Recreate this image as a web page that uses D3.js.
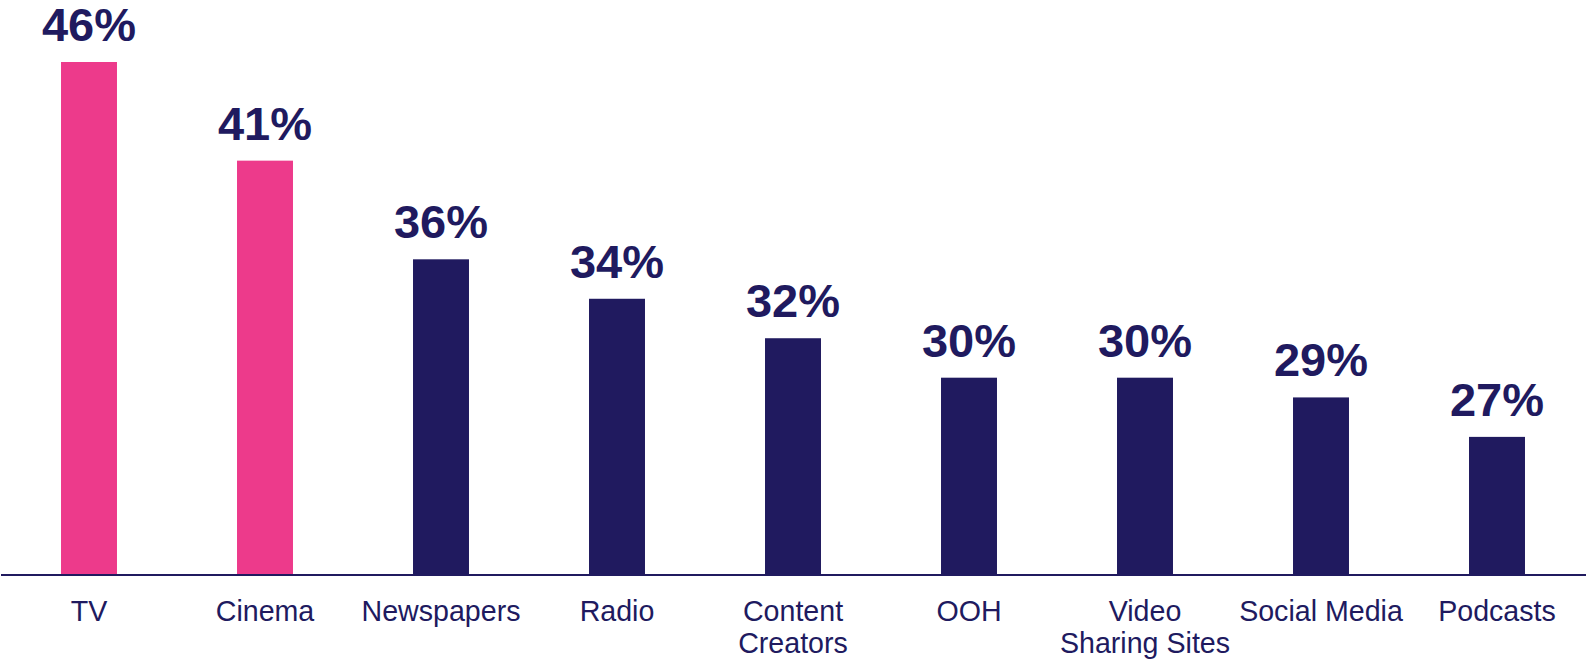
<!DOCTYPE html>
<html>
<head>
<meta charset="utf-8">
<script src="https://cdn.jsdelivr.net/npm/d3@7"></script>
<style>
  html, body { margin: 0; padding: 0; background: #fff; }
  svg { display: block; font-family: "Liberation Sans", Arial, sans-serif; }
</style>
</head>
<body>
<div id="chart"></div>
<script>
// media channels, share of respondents (%)
const categories = ['TV', 'Cinema', 'Newspapers', 'Radio', 'Content Creators', 'OOH', 'Video Sharing Sites', 'Social Media', 'Podcasts'];
const values = [46, 41, 36, 34, 32, 30, 30, 29, 27];
// two-line tick labels
const tickLines = [['TV'], ['Cinema'], ['Newspapers'], ['Radio'], ['Content', 'Creators'], ['OOH'], ['Video', 'Sharing Sites'], ['Social Media'], ['Podcasts']];
const highlighted = ['TV', 'Cinema'];

const W = 1588, H = 663;
const baseY = 575;
const PINK = '#ed3a8b';
const NAVY = '#201a5f';

const svg = d3.select('#chart').append('svg')
  .attr('width', W)
  .attr('height', H);

const x = d3.scaleBand()
  .domain(categories)
  .range([1, 1585])
  .padding(0);

// axis baseline sits at 20%
const y = d3.scaleLinear()
  .domain([20, 46])
  .range([baseY, 62]);

const barW = x.bandwidth() * 0.318;

svg.selectAll('.bar').data(categories)
  .join('rect')
  .attr('class', 'bar')
  .attr('x', d => x(d) + (x.bandwidth() - barW) / 2)
  .attr('y', (d, i) => y(values[i]))
  .attr('width', barW)
  .attr('height', (d, i) => baseY - y(values[i]))
  .attr('fill', d => highlighted.includes(d) ? PINK : NAVY);

svg.selectAll('.val').data(categories)
  .join('text')
  .attr('class', 'val')
  .attr('x', d => x(d) + x.bandwidth() / 2)
  .attr('y', (d, i) => y(values[i]) - 21)
  .attr('text-anchor', 'middle')
  .attr('fill', NAVY)
  .attr('font-size', '47px')
  .attr('font-weight', 700)
  .text((d, i) => `${values[i]}%`);

svg.append('line')
  .attr('x1', 1).attr('x2', 1586)
  .attr('y1', baseY).attr('y2', baseY)
  .attr('stroke', NAVY)
  .attr('stroke-width', 2);

const ticks = svg.selectAll('.tick').data(categories)
  .join('text')
  .attr('class', 'tick')
  .attr('x', d => x(d) + x.bandwidth() / 2)
  .attr('y', 621)
  .attr('text-anchor', 'middle')
  .attr('fill', NAVY)
  .attr('font-size', '28.6px');

ticks.selectAll('tspan')
  .data((d, i) => tickLines[i])
  .join('tspan')
  .attr('x', function() { return d3.select(this.parentNode).attr('x'); })
  .attr('dy', (d, i) => i === 0 ? 0 : 32)
  .text(d => d);
</script>
</body>
</html>
